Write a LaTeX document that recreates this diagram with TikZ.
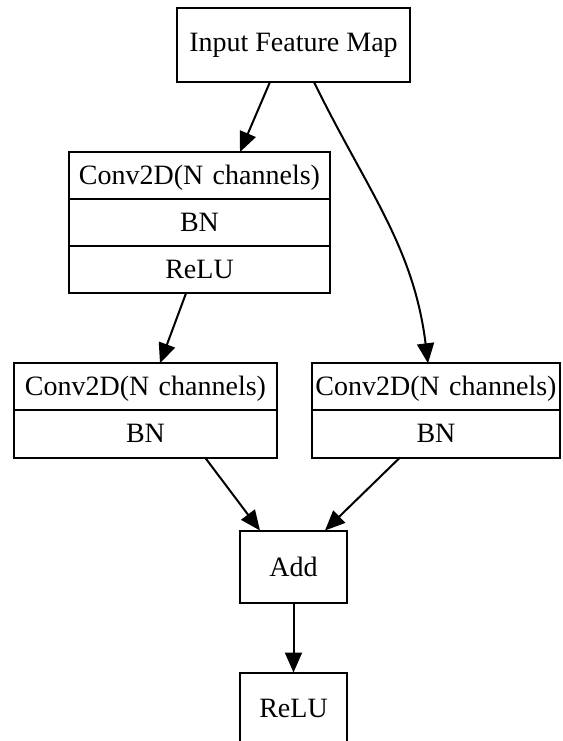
\documentclass[tikz,border=0pt]{standalone}
\usepackage{fontspec}
\setmainfont{Liberation Serif}
\usepackage{tikz}
\usetikzlibrary{shapes.multipart, arrows.meta, positioning}
\newcommand{\rowstrut}{\rule[-7.05pt]{0pt}{22.55pt}}
\tikzset{
    box/.style={
        rectangle,
        draw=black,
        line width=1pt,
        minimum width=#1,
        inner sep=0pt,
        outer sep=0pt,
        font=\fontsize{14}{17}\selectfont
    },
    rec/.style={
        rectangle split,
        rectangle split parts=#1,
        draw=black,
        line width=1pt,
        inner xsep=0pt,
        inner ysep=0pt,
        outer sep=0pt,
        align=center,
        font=\fontsize{14}{17}\selectfont
    },
    arrow/.style={
        -{Triangle[length=10pt, width=8.5pt]},
        line width=1pt
    }
}
\begin{document}
\begin{tikzpicture}
    \useasboundingbox (0,0) rectangle (281.5pt,-370.5pt);
    \node[box=116.5pt, minimum height=37pt] (input) at (146.75pt,-22.5pt) {Input Feature Map};
    \node[rec=3, text width=130.5pt, below=35pt of input, xshift=-47pt] (blk1)
        {\rowstrut Conv2D(N channels)\nodepart{two}\rowstrut BN\nodepart{three}\rowstrut ReLU};
    \node[rec=2, text width=131.5pt, below=35pt of blk1, xshift=-27pt] (blkL)
        {\rowstrut Conv2D(N channels)\nodepart{two}\rowstrut BN};
    \node[rec=2, text width=124pt, right=17.5pt of blkL] (blkR)
        {\rowstrut Conv2D(N channels)\nodepart{two}\rowstrut BN};
    \coordinate (mid) at (input |- blkL.south);
    \node[box=53.5pt, minimum height=36pt, below=36.5pt of mid] (add) {Add};
    \node[box=53.5pt, minimum height=36pt, below=35pt of add]   (relu) {ReLU};

    \draw[arrow] ([xshift=-11.75pt]input.south) -- ([xshift=20.25pt]blk1.north);
    \draw[arrow] ([xshift=10.25pt]input.south) to[out=-64, in=97] ([xshift=-4pt]blkR.north);
    \draw[arrow] ([xshift=-6.75pt]blk1.south) -- ([xshift=7.25pt]blkL.north);
    \draw[arrow] ([xshift=29.75pt]blkL.south) -- ([xshift=-16.75pt]add.north);
    \draw[arrow] ([xshift=-18pt]blkR.south) -- ([xshift=15.75pt]add.north);
    \draw[arrow] (add) -- (relu);
\end{tikzpicture}
\end{document}
